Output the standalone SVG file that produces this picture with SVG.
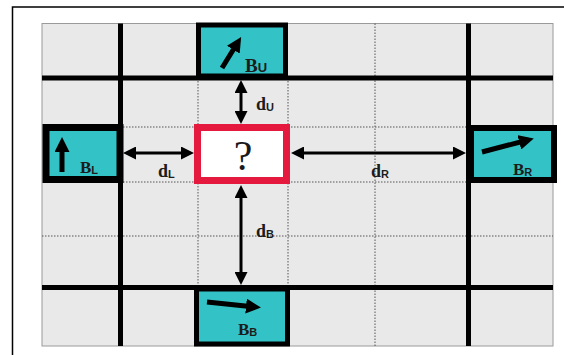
<svg xmlns="http://www.w3.org/2000/svg" width="564" height="355" viewBox="0 0 564 355">
  <style>
    .thick { stroke: #000; stroke-width: 5; fill: none; }
    .dot { stroke: #555; stroke-width: 1; stroke-dasharray: 1.5 1.5; fill: none; }
    .block { fill: #33c3c6; stroke: #000; }
    .conn { stroke: #000; stroke-width: 3; fill: none; marker-start: url(#head); marker-end: url(#head); }
    .dir { stroke: #000; stroke-width: 5; fill: none; marker-end: url(#fat); }
    .lbl { font-family: "Liberation Serif", serif; font-weight: bold; fill: #1c1c1c; }
    .sub { font-family: "Liberation Sans", sans-serif; font-weight: bold; fill: #1c1c1c; }
  </style>
  <defs>
    <marker id="head" viewBox="0 0 13 13" markerWidth="13" markerHeight="13" refX="9" refY="6.5" orient="auto-start-reverse" markerUnits="userSpaceOnUse">
      <path d="M0,0 L13,6.5 L0,13 Z" fill="#000"/>
    </marker>
    <marker id="fat" viewBox="0 0 15 15" markerWidth="15" markerHeight="15" refX="9" refY="7.5" orient="auto" markerUnits="userSpaceOnUse">
      <path d="M0,0 L15,7.5 L0,15 Z" fill="#000"/>
    </marker>
  </defs>

  <rect width="564" height="355" fill="#fff"/>
  <!-- outer frame -->
  <rect x="12.5" y="7" width="570" height="370" fill="none" stroke="#000" stroke-width="1.5"/>

  <!-- grid background -->
  <rect x="42" y="23.5" width="511" height="322.5" fill="#e9e9e9" stroke="#9a9a9a" stroke-width="1"/>

  <!-- dotted cell lines -->
  <g id="grid-dotted">
    <line class="dot" x1="198" y1="78" x2="198" y2="287"/>
    <line class="dot" x1="288" y1="78" x2="288" y2="287"/>
    <line class="dot" x1="375" y1="23.5" x2="375" y2="346"/>
    <line class="dot" x1="120" y1="127" x2="468" y2="127"/>
    <line class="dot" x1="120" y1="182" x2="468" y2="182"/>
    <line class="dot" x1="42" y1="236" x2="553" y2="236"/>
  </g>

  <!-- thick walls -->
  <g id="grid-walls">
    <line class="thick" x1="120.5" y1="23.5" x2="120.5" y2="346"/>
    <line class="thick" x1="468.5" y1="23.5" x2="468.5" y2="346"/>
    <line class="thick" x1="42" y1="78" x2="553" y2="78"/>
    <line class="thick" x1="42" y1="287.5" x2="553" y2="287.5"/>
  </g>

  <!-- connectors -->
  <g id="connectors">
    <line class="conn" x1="241" y1="84" x2="241" y2="120"/>
    <line class="conn" x1="127" y1="153" x2="190" y2="153"/>
    <line class="conn" x1="295" y1="153" x2="462" y2="153"/>
    <line class="conn" x1="241" y1="189" x2="241" y2="281"/>
    <text class="lbl" x="256" y="110" font-size="18">d<tspan class="sub" font-size="11" dy="1">U</tspan></text>
    <text class="lbl" x="158" y="177" font-size="18">d<tspan class="sub" font-size="11" dy="1">L</tspan></text>
    <text class="lbl" x="371" y="177" font-size="18">d<tspan class="sub" font-size="11" dy="1">R</tspan></text>
    <text class="lbl" x="256" y="237" font-size="18">d<tspan class="sub" font-size="11" dy="1">B</tspan></text>
  </g>

  <!-- block above -->
  <g id="block-up">
    <rect class="block" x="198.5" y="25" width="87" height="51" stroke-width="5"/>
    <line class="dir" x1="222" y1="68" x2="238" y2="42"/>
    <text class="lbl" x="245" y="72" font-size="19">B<tspan class="sub" font-size="13" dy="0">U</tspan></text>
  </g>

  <!-- block left -->
  <g id="block-left">
    <rect class="block" x="46" y="127.5" width="74" height="52" stroke-width="7"/>
    <line class="dir" x1="62" y1="172" x2="62" y2="143"/>
    <text class="lbl" x="80" y="173" font-size="17">B<tspan class="sub" font-size="11" dy="1">L</tspan></text>
  </g>

  <!-- block right -->
  <g id="block-right">
    <rect class="block" x="471" y="128" width="83" height="52" stroke-width="6"/>
    <line class="dir" x1="482" y1="152" x2="528" y2="140" stroke-width="4"/>
    <text class="lbl" x="513" y="175" font-size="17">B<tspan class="sub" font-size="11" dy="1">R</tspan></text>
  </g>

  <!-- block below -->
  <g id="block-bottom">
    <rect class="block" x="196.5" y="289" width="91" height="55" stroke-width="5"/>
    <line class="dir" x1="207" y1="302" x2="255" y2="307"/>
    <text class="lbl" x="238" y="335" font-size="17">B<tspan class="sub" font-size="11" dy="1">B</tspan></text>
  </g>

  <!-- unknown cell -->
  <g id="target">
    <rect x="197.5" y="127.5" width="89" height="53" fill="#fff" stroke="#e5183e" stroke-width="7"/>
    <text x="243" y="170" font-family="Liberation Serif, serif" font-size="42" text-anchor="middle" fill="#1a1a1a">?</text>
  </g>
</svg>
